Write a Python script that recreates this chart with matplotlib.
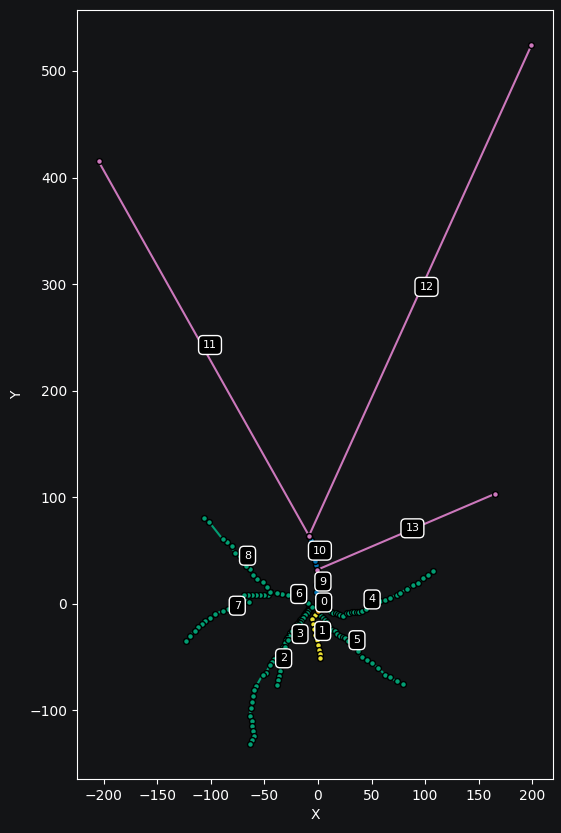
import numpy as np
import matplotlib.pyplot as plt

# colours (seaborn colorblind)
blue = "#0173b2"
orange = "#de8f05"
green = "#029e73"
pink = "#cc78bc"
yellow = "#ece133"
bg = "#131416"

# segment coordinates (x, y)
seg0 = [(0, -6.6), (-1, 2.5)]
seg1 = [(0, -6.6), (-3, -11), (-5.6, -14.1), (-4.7, -18.8), (-3.5, -24), (-2.5, -29),
        (-1, -34), (0, -38.5), (0.9, -43.2), (1.9, -46.9), (1.9, -50.7)]
seg2 = [(-8, -4), (-9.5, -6), (-11, -8), (-12.1, -9.5), (-13.5, -11), (-15, -13),
        (-16.8, -15), (-18, -17), (-19.5, -19), (-21.5, -21.3), (-23, -23.5), (-24.5, -25.5),
        (-26.2, -27.5), (-27.5, -30), (-28.5, -32), (-29.9, -34), (-31, -37), (-32.4, -40.1),
        (-34, -43), (-35.5, -45), (-37, -47), (-39, -49.5), (-41, -52), (-43, -54.5),
        (-44.9, -57.2), (-48.6, -65), (-51.7, -66.6), (-57.9, -77.6), (-59.8, -80.7),
        (-61, -87), (-62, -92), (-62.9, -97.8), (-63.6, -105.7), (-62, -110.4),
        (-61.5, -115), (-61, -119.8), (-59.8, -124.5), (-62, -128), (-63.6, -131.5)]
seg3 = [(-7, -4), (-8, -5.5), (-9.1, -7.2), (-10.5, -9), (-12, -11), (-13.7, -13.4),
        (-15.5, -16), (-17, -18), (-18.4, -19.7), (-20, -22), (-22, -24), (-24.6, -26),
        (-27.8, -33.8), (-30.8, -40.1), (-33.6, -47.8), (-34.6, -56.3), (-35.5, -63.5),
        (-36.3, -67.5), (-37.1, -71.3), (-38.6, -76)]
seg4 = [(3.7, -2.8), (5, -3.8), (6.5, -4.7), (8.5, -5.5), (10.6, -6.3), (12.5, -7.5),
        (14.3, -8.7), (16.5, -9), (19, -9.4), (21, -10.5), (23.6, -11.3), (26.8, -8.7),
        (29, -8.2), (31.5, -7.8), (34, -7.8), (36.2, -7.8), (38.5, -7.5), (40.8, -7.2),
        (44.9, -4.7), (50.5, 0.9), (57.9, 2.2), (62.6, 3.8), (67.3, 5.3), (73.6, 8.4),
        (76.6, 10), (82.9, 13.8), (89.1, 17.8), (93.7, 19.4), (98.4, 24.1), (103.1, 27.2),
        (107.2, 31.2)]
seg5 = [(0.3, -8.7), (2.8, -11.3), (4.5, -13), (6.5, -15), (8, -17), (9, -19),
        (11.2, -22.8), (13.5, -24.5), (15.9, -26), (18, -28), (20.6, -30), (23, -31),
        (25.2, -32.2), (28.3, -35.4), (33.6, -38.5), (37, -44), (40.8, -50), (45.5, -52.5),
        (50.2, -55.6), (56.4, -60.3), (62.6, -66.6), (67.3, -69.1), (73.6, -72.9),
        (79.7, -75.3)]
seg6 = [(-6, -3), (-9, 1), (-13, 4), (-18, 6), (-23, 7), (-28, 8), (-34, 9.1),
        (-38.6, 10), (-44.9, 11)]
seg7 = [(-44.9, 11), (-46.4, 8.4), (-50, 8.4), (-54.2, 8.4), (-58, 8.4), (-62, 8.4),
        (-65.5, 8.4), (-69.2, 8.4), (-67.3, 2.2), (-64.2, 1.2), (-72, 0), (-79.2, -2.5),
        (-84, -4.5), (-89.1, -6.6), (-96.3, -9.7), (-101, -13), (-105.6, -16.6),
        (-108.7, -19), (-112, -22), (-115, -25.3), (-119.6, -30), (-123.4, -35.4)]
seg8 = [(-44.9, 11), (-47.4, 15.3), (-51.7, 20.4), (-56.7, 23.5), (-60.5, 27.2),
        (-63.6, 32.8), (-67.3, 35), (-69.2, 41.3), (-73, 44.5), (-77.6, 47.6),
        (-80.7, 53.8), (-85.3, 57.5), (-89.1, 60.7), (-101.6, 76.6), (-106.3, 80.4)]
seg9 = [(-1, 2.5), (-2, 11.5), (-1.5, 18), (-1, 24), (-0.7, 31.9)]
seg10 = [(-0.7, 31.9), (-1.5, 36), (-2.5, 40), (-3.5, 45), (-5, 50), (-6.8, 59.4),
         (-8.4, 63.8)]
seg11 = [(-8.4, 63.8), (-205, 415.3)]
seg12 = [(-8.4, 63.8), (199.4, 524.4)]
seg13 = [(-0.7, 31.9), (165.4, 103.2)]

segments = [seg0, seg1, seg2, seg3, seg4, seg5, seg6, seg7, seg8, seg9, seg10, seg11, seg12, seg13]
seg_colors = [orange, yellow, green, green, green, green, green, green, green,
              blue, blue, pink, pink, pink]

plt.rcParams['font.family'] = 'DejaVu Sans'
fig, ax = plt.subplots(figsize=(5.61, 8.33), dpi=100)
fig.patch.set_facecolor(bg)
ax.set_facecolor(bg)

draw_order = [2, 3, 4, 5, 6, 7, 8, 1, 0, 9, 10, 11, 12, 13]
for i in draw_order:
    pts = np.array(segments[i])
    ax.plot(pts[:, 0], pts[:, 1], color=seg_colors[i], lw=1.5, marker='o', ms=4.2,
            mfc=seg_colors[i], mec='black', mew=1.0, zorder=2)

# segment id at the centroid of its points
for i, seg in enumerate(segments):
    mx, my = np.array(seg).mean(axis=0)
    ax.annotate(str(i), (mx, my), xytext=(4.5, 2.5), textcoords='offset points',
                ha='center', va='center', color='white', fontsize=8, zorder=5,
                bbox=dict(boxstyle='round,pad=0.4', fc='black', ec='white', lw=1))

ax.set_xlabel("X", color='white')
ax.set_ylabel("Y", color='white')
ax.tick_params(colors='white')
for s in ax.spines.values():
    s.set_color('white')

plt.subplots_adjust(left=0.137, right=0.986, bottom=0.065, top=0.988)
plt.savefig("out.png", dpi=100, facecolor=bg)
